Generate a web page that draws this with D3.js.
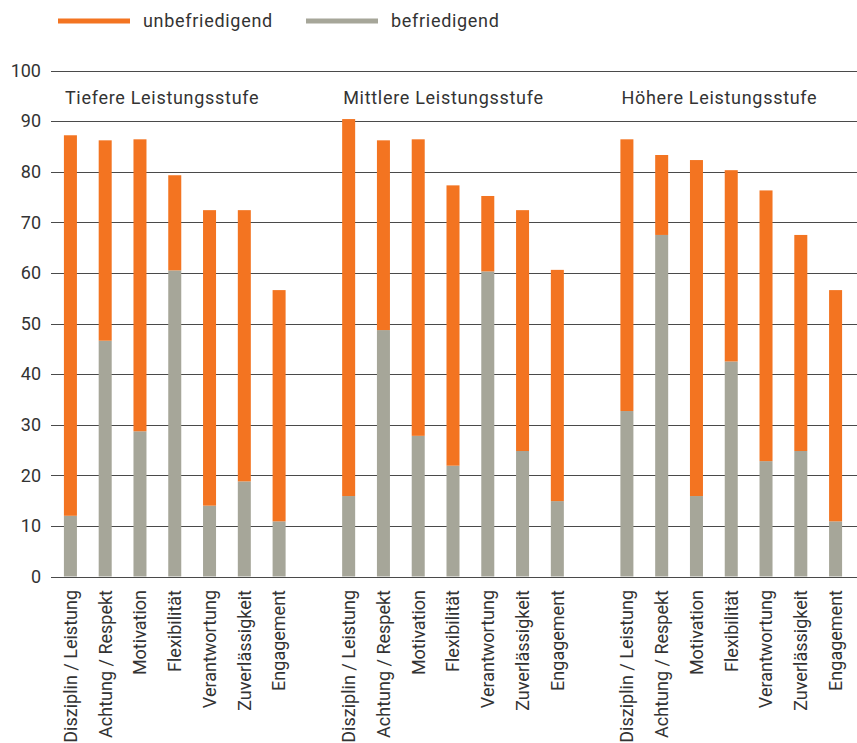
<!DOCTYPE html>
<html>
<head>
<meta charset="utf-8">
<script src="https://cdn.jsdelivr.net/npm/d3@7/dist/d3.min.js"></script>
<style>
  body { margin: 0; background: #fff; }
  svg { display: block; font-family: Roboto, 'Noto Sans', sans-serif; }
  text { fill: #333; }
</style>
</head>
<body>
<svg id="chart" width="857" height="743"></svg>
<script>
// categories and groups
const groups = ['Tiefere Leistungsstufe', 'Mittlere Leistungsstufe', 'Höhere Leistungsstufe'];
const categories = ['Disziplin / Leistung', 'Achtung / Respekt', 'Motivation', 'Flexibilität',
  'Verantwortung', 'Zuverlässigkeit', 'Engagement'];

// befriedigend (grey, bottom), per group
const befriedigend = [
  [12, 46.6, 28.7, 60.5, 14, 18.8, 10.9],
  [15.9, 48.7, 27.8, 21.9, 60.3, 24.8, 14.9],
  [32.7, 67.5, 15.9, 42.5, 22.8, 24.8, 10.9]
];
// unbefriedigend (orange, stacked on top), per group
const unbefriedigend = [
  [75.2, 39.6, 57.7, 18.8, 58.4, 53.6, 45.7],
  [74.5, 37.5, 58.6, 55.4, 14.9, 47.6, 45.7],
  [53.7, 15.8, 66.4, 37.8, 53.5, 42.7, 45.7]
];

const yTicks = [0, 10, 20, 30, 40, 50, 60, 70, 80, 90, 100];
const seriesNames = ['unbefriedigend', 'befriedigend'];
const colors = { unbefriedigend: '#f37421', befriedigend: '#a6a699' };

const svg = d3.select('#chart');
const margin = { left: 51, right: 0, top: 70, bottom: 167 };
const width = 857, height = 743;

// slots: 7 bars, spacer, 7 bars, spacer, 7 bars
const slots = [];
groups.forEach((g, gi) => {
  categories.forEach((c, ci) => slots.push(gi + '|' + ci));
  if (gi < groups.length - 1) slots.push('gap' + gi);
});

const x = d3.scaleBand()
  .domain(slots)
  .range([50, 856])
  .paddingInner(0.626)
  .paddingOuter(0.4);

const y = d3.scaleLinear()
  .domain([0, 100])
  .range([576.5, 70.5]);

// gridlines + y labels
const yAxis = svg.append('g')
  .attr('transform', 'translate(' + margin.left + ',0)')
  .call(d3.axisLeft(y).tickValues(yTicks).tickSize(-(width - margin.left)).tickPadding(10));
yAxis.select('.domain').remove();
yAxis.selectAll('.tick line')
  .attr('stroke', '#4a4a4a')
  .attr('stroke-width', 1)
  .attr('shape-rendering', 'crispEdges');
yAxis.selectAll('.tick text')
  .attr('font-size', 18)
  .attr('font-family', 'Roboto, sans-serif')
  .style('fill', '#333');

// flatten data
const rows = [];
groups.forEach((g, gi) => {
  categories.forEach((c, ci) => {
    rows.push({ key: gi + '|' + ci, cat: c, bef: befriedigend[gi][ci], unb: unbefriedigend[gi][ci] });
  });
});

const bars = svg.append('g');
bars.selectAll('rect.bef')
  .data(rows)
  .enter().append('rect')
  .attr('class', 'bef')
  .attr('x', d => x(d.key))
  .attr('width', x.bandwidth())
  .attr('y', d => y(d.bef))
  .attr('height', d => y(0) - y(d.bef))
  .attr('fill', colors.befriedigend);

bars.selectAll('rect.unb')
  .data(rows)
  .enter().append('rect')
  .attr('class', 'unb')
  .attr('x', d => x(d.key))
  .attr('width', x.bandwidth())
  .attr('y', d => y(d.bef + d.unb))
  .attr('height', d => y(d.bef) - y(d.bef + d.unb))
  .attr('fill', colors.unbefriedigend);

// category labels, rotated
svg.append('g').selectAll('text')
  .data(rows)
  .enter().append('text')
  .attr('transform', d => 'translate(' + (x(d.key) + x.bandwidth() / 2) + ',590) rotate(-90)')
  .attr('text-anchor', 'end')
  .attr('dy', '0.35em')
  .attr('font-size', 18)
  .text(d => d.cat);

// group titles
svg.append('g').selectAll('text')
  .data(groups)
  .enter().append('text')
  .attr('x', (d, i) => x(i + '|0') + 1)
  .attr('y', 104)
  .attr('font-size', 18)
  .attr('letter-spacing', 0.7)
  .text(d => d);

// legend
const legendX = [58, 306];
const legend = svg.append('g').selectAll('g')
  .data(seriesNames)
  .enter().append('g')
  .attr('transform', (d, i) => 'translate(' + legendX[i] + ',21)');
legend.append('rect')
  .attr('x', 0).attr('y', -2.5)
  .attr('width', 72).attr('height', 5)
  .attr('fill', d => colors[d]);
legend.append('text')
  .attr('x', 85)
  .attr('dy', '0.35em')
  .attr('font-size', 18)
  .attr('letter-spacing', 0.7)
  .text(d => d);
</script>
</body>
</html>
